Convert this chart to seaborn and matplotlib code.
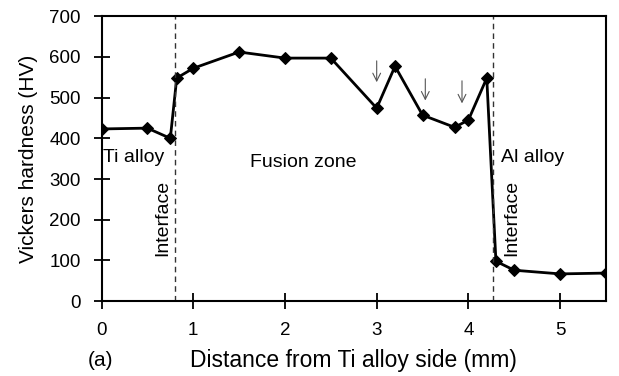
import numpy as np
import pandas as pd
import seaborn as sns
import matplotlib
matplotlib.use('Agg')
import matplotlib.pyplot as plt

# 硬度分布数据
distance = [0, 0.5, 0.75, 0.82, 1.0, 1.5, 2.0, 2.5, 3.0, 3.2, 3.5, 3.85, 4.0, 4.2, 4.3, 4.5, 5.0, 5.5]
hardness = [423, 425, 400, 548, 572, 612, 597, 597, 474, 577, 457, 427, 445, 548, 98, 76, 67, 69]
interface_x = [0.80, 4.27]
arrow_x = [3.0, 3.53, 3.93]
arrow_top = [597, 553, 548]
arrow_tip = [531, 486, 479]
xticks = [0, 1, 2, 3, 4, 5]
yticks = [0, 100, 200, 300, 400, 500, 600, 700]

sns.set_style('ticks')
plt.rcParams['font.family'] = ['Liberation Sans', 'DejaVu Sans']
plt.rcParams['text.color'] = 'black'
plt.rcParams['axes.labelcolor'] = 'black'

df = pd.DataFrame({'x': distance, 'y': hardness})

fig = plt.figure(figsize=(6.19, 3.76), dpi=100)
ax = fig.add_axes([0.164, 0.199, 0.815, 0.758])
sns.lineplot(data=df, x='x', y='y', ax=ax, color='black', linewidth=2,
             marker='D', markersize=6, markeredgecolor='black', sort=False)

for xi in interface_x:
    ax.axvline(xi, color='#333333', linestyle=(0, (4, 3)), linewidth=1)

for xa, yt, yb in zip(arrow_x, arrow_top, arrow_tip):
    ax.annotate('', xy=(xa, yb), xytext=(xa, yt),
                arrowprops=dict(arrowstyle='->', color='#555555', lw=0.8,
                                mutation_scale=14))

fs = 14
ax.text(0.02, 354, 'Ti alloy', fontsize=fs, va='center', ha='left')
ax.text(1.62, 340, 'Fusion zone', fontsize=fs, va='center', ha='left')
ax.text(4.36, 354, 'Al alloy', fontsize=fs, va='center', ha='left')
ax.text(0.67, 204, 'Interface', fontsize=fs, rotation=90, va='center', ha='center')
ax.text(4.47, 204, 'Interface', fontsize=fs, rotation=90, va='center', ha='center')

ax.set_xlim(0, 5.5)
ax.set_ylim(0, 700)
ax.set_xticks(xticks)
ax.set_yticks(yticks)
ax.tick_params(direction='inout', length=12, width=1.3, labelsize=13.5,
               colors='black', labelcolor='black')
ax.tick_params(axis='x', pad=9)
ax.tick_params(axis='y', pad=9)
for s in ax.spines.values():
    s.set_linewidth(1.5)
    s.set_color('black')

ax.set_xlabel('Distance from Ti alloy side (mm)', fontsize=16.5, labelpad=7)
ax.set_ylabel('Vickers hardness (HV)', fontsize=15, labelpad=8)
fig.text(0.142, 0.04, '(a)', fontsize=15, va='center')

fig.savefig('out.png', dpi=100)
